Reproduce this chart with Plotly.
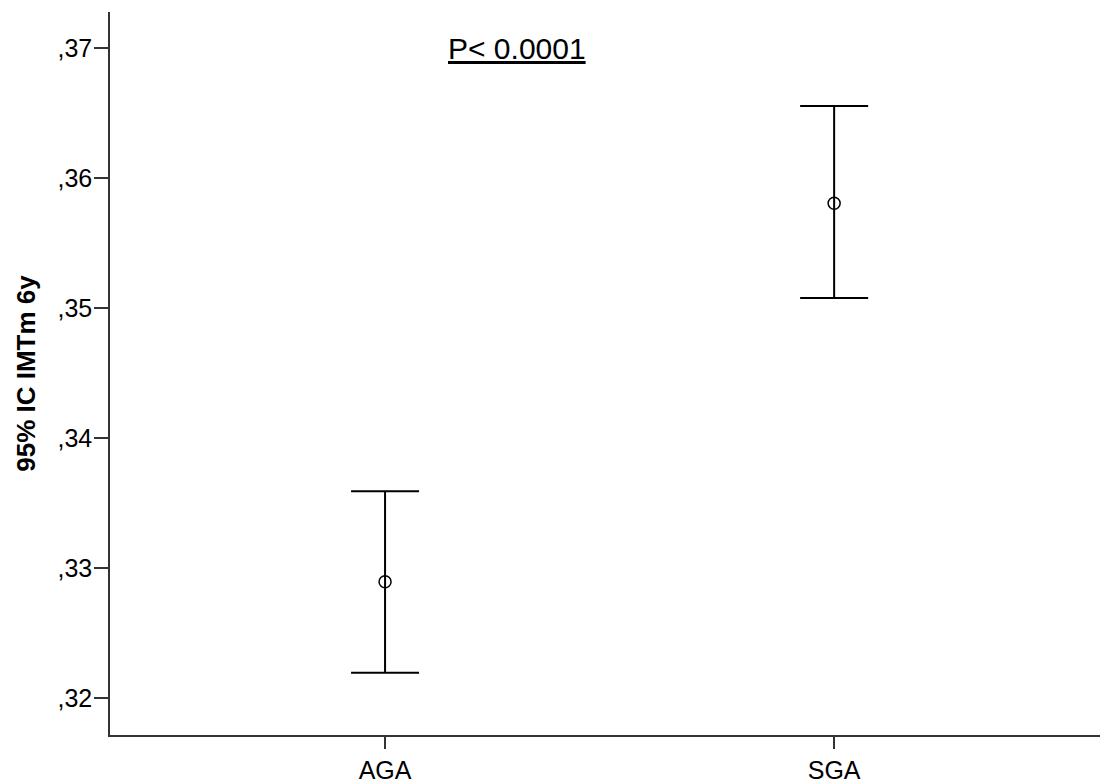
import plotly.graph_objects as go

categories = ["AGA", "SGA"]
means = [0.32897, 0.35808]
upper = [0.33592, 0.36556]
lower = [0.32197, 0.35079]
ytick_vals = [0.32, 0.33, 0.34, 0.35, 0.36, 0.37]
ytick_text = [",32", ",33", ",34", ",35", ",36", ",37"]

err_plus = [u - m for u, m in zip(upper, means)]
err_minus = [m - l for m, l in zip(means, lower)]

fig = go.Figure()
fig.add_trace(go.Scatter(
    x=categories, y=means, mode="markers",
    marker=dict(symbol="circle-open", size=12, color="black", line=dict(width=1.5, color="black")),
    error_y=dict(type="data", symmetric=False, array=err_plus, arrayminus=err_minus,
                 color="black", thickness=2, width=34),
    showlegend=False,
))

fig.add_annotation(
    x=0.411, xref="paper", y=0.37, yref="y",
    text="<u>P< 0.0001</u>", showarrow=False,
    font=dict(family="Liberation Sans, Arial", size=30, color="black"),
    xanchor="center", yanchor="middle",
)

fig.update_layout(
    width=1100, height=783,
    margin=dict(l=110, r=0, t=12, b=48),
    paper_bgcolor="white", plot_bgcolor="white",
    font=dict(family="Liberation Sans, Arial", size=25, color="black"),
    xaxis=dict(
        type="category", range=[-0.6125, 1.592],
        showline=True, linecolor="#333", linewidth=1.5,
        ticks="outside", ticklen=12, tickcolor="#333", tickwidth=1.5,
        showgrid=False, zeroline=False,
        tickfont=dict(size=25, color="black"),
    ),
    yaxis=dict(
        range=[0.31718, 0.37279],
        tickvals=ytick_vals, ticktext=ytick_text,
        showline=True, linecolor="#333", linewidth=1.5,
        ticks="outside", ticklen=14, tickcolor="#333", tickwidth=1.5,
        ticklabelstandoff=-3,
        showgrid=False, zeroline=False,
        tickfont=dict(size=25, color="black"),
        title=dict(text="<b>95% IC IMTm 6y</b>", font=dict(size=26, color="black"), standoff=14),
    ),
)

fig.write_html("out.html", config={"displayModeBar": False},
               post_script="document.body.style.margin='0';document.body.style.overflow='hidden';")
